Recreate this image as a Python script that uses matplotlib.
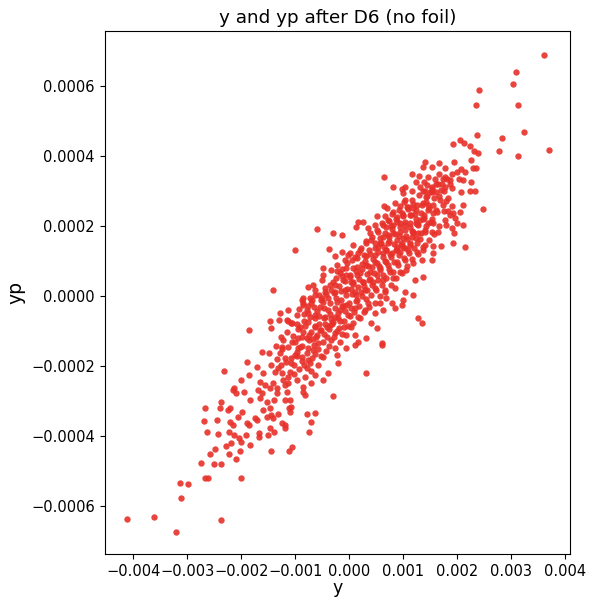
import matplotlib
matplotlib.use("Agg")
import numpy as np
import matplotlib.pyplot as plt

# points: (y in 1e-3, yp in 1e-4)
upper_tail = [(3.60, 6.89), (3.09, 6.42), (3.04, 6.06), (2.40, 5.89), (2.35, 5.45), (3.12, 5.47),
              (3.24, 4.69), (3.70, 4.18), (3.12, 4.01)]
upper_band = [(2.36, 4.61), (2.83, 4.53), (2.05, 4.46), (1.93, 4.35), (2.13, 4.37), (2.24, 4.30),
              (2.31, 4.16), (2.39, 4.10), (2.77, 4.16), (2.25, 3.89), (1.40, 3.84), (1.67, 3.80),
              (1.95, 3.82), (1.53, 3.69), (1.37, 3.68), (1.77, 3.67), (2.29, 3.67), (2.35, 3.67),
              (2.08, 3.62), (2.00, 3.56), (2.14, 3.54), (0.64, 3.39), (1.16, 3.48), (1.29, 3.44),
              (1.66, 3.49), (1.90, 3.49), (1.77, 3.41), (1.73, 3.34), (1.81, 3.35), (2.04, 3.34),
              (2.11, 3.31), (2.25, 3.25), (1.46, 3.39), (1.59, 3.35), (1.23, 3.27), (1.38, 3.27),
              (0.81, 3.13), (0.97, 3.06), (1.03, 3.13), (1.31, 3.12), (1.44, 3.18), (1.53, 3.13),
              (1.61, 3.20), (1.72, 3.21), (1.86, 3.20), (1.90, 3.08), (2.08, 2.98), (2.24, 3.00),
              (2.33, 3.00), (0.99, 2.94), (1.17, 3.01), (1.41, 3.00), (1.49, 2.98), (1.61, 2.97),
              (1.70, 3.03), (1.77, 3.13)]
mid_upper = [(2.48, 2.49), (2.10, 2.60), (2.05, 2.41), (1.90, 2.58), (1.80, 2.72), (1.68, 2.75),
             (1.57, 2.79), (1.42, 2.84), (1.26, 2.60), (1.36, 2.65), (1.46, 2.60), (1.56, 2.37),
             (1.61, 2.46), (1.75, 2.43), (1.83, 2.43), (1.93, 2.37), (1.96, 2.22), (1.99, 2.08),
             (1.80, 2.03), (1.90, 1.94), (1.94, 1.79), (2.11, 2.03), (0.65, 2.58), (0.70, 2.51),
             (0.85, 2.67), (0.94, 2.58), (1.04, 2.75), (1.09, 2.56), (1.19, 2.51), (0.80, 2.35),
             (0.88, 2.27), (1.00, 2.32), (1.12, 2.32), (1.22, 2.35), (1.31, 2.17), (1.38, 2.22),
             (1.46, 2.08), (1.56, 2.08), (1.65, 1.84), (1.53, 1.84), (0.52, 2.29), (0.66, 2.29),
             (0.74, 2.15), (0.60, 2.08), (0.48, 2.03), (0.35, 1.94), (0.26, 2.13), (0.17, 2.13),
             (0.12, 1.98), (0.38, 1.79), (0.54, 1.84), (0.69, 1.98), (0.81, 2.03), (0.94, 2.08),
             (1.03, 2.03), (1.12, 1.98), (1.24, 2.08), (1.19, 1.84), (1.28, 1.81), (1.40, 1.84),
             (0.94, 1.84), (0.81, 1.79), (0.72, 1.75), (0.63, 1.70), (-0.59, 1.91), (-0.30, 1.79),
             (-0.14, 1.75), (0.07, 1.46), (0.32, 1.51), (0.41, 1.60), (0.57, 1.51), (0.72, 1.51),
             (0.88, 1.60), (1.00, 1.65), (1.12, 1.51), (1.25, 1.51), (1.40, 1.46), (1.56, 1.43),
             (1.71, 1.43), (1.93, 1.51), (2.14, 1.41), (0.88, 1.41), (1.00, 1.41), (1.16, 1.70)]
center = [(-1.01, 1.32), (-0.37, 1.34), (-0.14, 1.27), (0.01, 1.22), (0.20, 1.32), (-0.26, 1.13),
          (-0.08, 1.03), (0.14, 1.08), (0.32, 1.13), (0.48, 1.17), (0.63, 1.22), (0.79, 1.22),
          (0.94, 1.27), (1.09, 1.32), (1.25, 1.27), (1.37, 1.32), (1.53, 1.03), (1.34, 1.03),
          (1.19, 0.94), (1.03, 1.03), (0.88, 0.98), (0.69, 0.98), (0.51, 0.94), (0.32, 0.89),
          (0.14, 0.84), (-0.05, 0.79), (-0.23, 0.89), (-0.33, 0.74), (-0.48, 0.81), (-0.48, 0.60),
          (-0.17, 0.65), (0.01, 0.60), (0.20, 0.65), (0.38, 0.70), (0.57, 0.74), (0.75, 0.70),
          (0.94, 0.70), (1.06, 0.74), (1.22, 0.46), (1.37, 0.55), (0.81, 0.51), (0.63, 0.46),
          (0.44, 0.41), (0.26, 0.41), (0.07, 0.41), (-0.11, 0.46), (-0.30, 0.41), (-0.51, 0.46),
          (-0.67, 0.31), (-0.76, 0.27), (-1.42, 0.17), (-0.85, -0.07), (-0.64, 0.03), (-0.45, 0.12),
          (-0.26, 0.12), (-0.08, 0.17), (0.11, 0.12), (0.29, 0.17), (0.48, 0.22), (0.66, 0.12),
          (0.85, 0.22), (1.03, 0.12), (1.19, 0.03), (1.56, 1.22), (0.48, 1.37), (0.69, 1.32)]
mid_lower = [(-1.85, -0.97), (-1.46, -0.72), (-1.44, -0.92), (-1.28, -0.50), (-1.30, -0.69),
             (-1.13, -0.40), (-1.16, -0.69), (-1.07, -0.78), (-0.97, -0.54), (-0.85, -0.21),
             (-0.88, -0.11), (-0.79, -0.40), (-0.91, -0.88), (-0.76, -0.74), (-0.64, -0.54),
             (-0.64, -0.88), (-0.70, -0.21), (-0.54, -0.31), (-0.51, -0.07), (-0.45, -0.59),
             (-0.39, -0.40), (-0.36, -0.83), (-0.23, -0.16), (-0.20, -0.64), (-0.17, -0.40),
             (-0.05, -0.26), (-0.02, -0.54), (0.11, -0.35), (0.14, -0.11), (0.04, -0.88),
             (-0.05, -1.12), (0.20, -0.64), (0.29, -0.40), (0.35, -0.21), (0.41, -0.78),
             (0.48, -0.50), (0.57, -0.21), (0.63, -0.40), (0.69, -0.07), (0.79, -0.21),
             (0.85, -0.35), (0.97, -0.26), (1.00, -0.11), (1.28, -0.62), (1.34, -0.78),
             (0.51, -0.92), (0.32, -1.21), (0.60, -1.35), (-0.79, -1.21), (-0.88, -1.16),
             (-1.22, -1.26), (-1.01, -1.31), (-0.60, -1.12), (-0.42, -1.16), (-0.26, -1.07),
             (-0.17, -1.31), (0.11, -1.12), (0.17, -1.31), (-0.30, -0.75), (-0.10, -0.90)]
lower_band = [(-2.32, -2.14), (-1.89, -1.88), (-2.01, -2.40), (-1.85, -2.26), (-1.70, -2.02),
              (-1.62, -1.59), (-1.59, -2.21), (-1.48, -1.64), (-1.44, -1.97), (-1.65, -2.45),
              (-1.56, -2.55), (-1.41, -2.48), (-1.31, -2.07), (-1.28, -1.64), (-1.25, -1.45),
              (-1.19, -1.78), (-1.25, -2.21), (-1.10, -2.17), (-1.07, -1.93), (-1.13, -2.48),
              (-0.97, -2.40), (-0.94, -1.50), (-0.88, -1.74), (-1.01, -1.69), (-0.79, -2.07),
              (-0.76, -1.83), (-0.82, -2.31), (-0.85, -2.60), (-0.67, -1.55), (-0.64, -2.26),
              (-0.57, -1.97), (-0.48, -1.74), (-0.70, -2.14), (-0.39, -2.21), (-0.26, -1.50),
              (-0.20, -1.93), (-0.23, -1.69), (-0.05, -1.50), (0.11, -1.40), (0.32, -2.21),
              (0.60, -1.40), (-0.48, -2.40), (-0.70, -2.50), (-2.14, -2.64), (-1.19, -2.55)]
low_band = [(-2.67, -3.20), (-2.38, -3.02), (-2.39, -3.20), (-2.69, -3.58), (-2.63, -3.88),
            (-2.44, -3.55), (-2.43, -3.96), (-2.24, -3.26), (-2.20, -3.20), (-2.21, -3.60),
            (-2.22, -3.88), (-2.15, -3.69), (-2.14, -3.98), (-2.06, -3.45), (-1.99, -3.31),
            (-2.16, -2.69), (-2.09, -2.78), (-1.95, -2.76), (-1.84, -2.98), (-1.90, -3.64),
            (-1.85, -3.69), (-2.04, -4.05), (-1.91, -3.98), (-1.75, -3.48), (-1.70, -3.55),
            (-1.65, -2.93), (-1.69, -2.69), (-1.62, -2.78), (-1.60, -3.26), (-1.53, -3.45),
            (-1.47, -2.64), (-1.53, -3.02), (-1.47, -3.20), (-1.39, -2.98), (-1.45, -3.40),
            (-1.34, -2.78), (-1.31, -3.38), (-1.41, -3.50), (-1.47, -3.79), (-1.67, -3.93),
            (-1.67, -4.03), (-1.50, -3.98), (-1.25, -3.64), (-1.19, -3.69), (-1.19, -3.79),
            (-1.19, -2.98), (-1.16, -2.74), (-1.12, -3.21), (-1.09, -3.31), (-1.08, -3.17),
            (-1.09, -2.98), (-0.85, -2.74), (-0.82, -2.83), (-0.79, -3.39), (-0.71, -3.60),
            (-0.64, -3.36), (-0.74, -3.88), (-0.30, -2.86), (-1.39, -3.88)]
lower_tail = [(-4.12, -6.38), (-3.62, -6.32), (-3.21, -6.75), (-2.37, -6.40), (-3.12, -5.78),
              (-3.14, -5.34), (-2.99, -5.38), (-2.75, -4.78), (-2.67, -5.22), (-2.62, -5.21),
              (-2.57, -4.53), (-2.48, -4.39), (-2.50, -4.81), (-2.38, -4.81), (-2.29, -4.30),
              (-2.23, -4.52), (-2.19, -4.21), (-2.09, -4.67), (-2.03, -4.44), (-2.01, -4.17),
              (-2.01, -5.22), (-1.84, -4.25), (-1.45, -4.43), (-1.12, -4.43), (-1.06, -4.31)]
# dense core, estimated (too packed to read one by one)
core = [(-1.03, -1.98), (-0.97, -1.72), (-1.05, -1.33), (-0.94, -0.95),
        (-0.88, -1.87), (-0.92, -1.46), (-0.86, -1.04), (-0.83, -0.52),
        (-0.78, -1.62), (-0.74, -1.27), (-0.81, -0.86), (-0.73, -0.61), (-0.77, -0.28),
        (-0.68, -1.78), (-0.66, -1.41), (-0.71, -1.02), (-0.63, -0.64), (-0.69, -0.12),
        (-0.58, -1.52), (-0.61, -1.18), (-0.56, -0.79), (-0.59, -0.42), (-0.55, 0.02),
        (-0.48, -1.31), (-0.52, -0.97), (-0.46, -0.63), (-0.49, -0.18), (-0.44, 0.22),
        (-0.38, -1.43), (-0.41, -0.88), (-0.35, -0.52), (-0.39, -0.07), (-0.36, 0.31),
        (-0.28, -1.18), (-0.31, -0.79), (-0.26, -0.33), (-0.29, 0.08), (-0.24, 0.52),
        (-0.19, -0.92), (-0.21, -0.48), (-0.16, -0.12), (-0.18, 0.28), (-0.14, 0.77),
        (-0.09, -0.71), (-0.11, -0.28), (-0.06, 0.03), (-0.08, 0.42), (-0.04, 0.93),
        (0.02, -0.58), (-0.01, -0.19), (0.03, 0.21), (0.01, 0.53), (0.05, 1.02),
        (0.09, -0.47), (0.12, 0.02), (0.08, 0.33), (0.13, 0.71), (0.10, 1.12),
        (0.19, -0.29), (0.22, 0.11), (0.18, 0.48), (0.23, 0.92), (0.21, 1.38),
        (0.31, -0.08), (0.28, 0.29), (0.33, 0.62), (0.29, 1.01), (0.32, 1.57),
        (0.41, 0.03), (0.38, 0.48), (0.43, 0.83), (0.39, 1.19), (0.42, 1.68),
        (0.49, 0.18), (0.52, 0.61), (0.48, 0.98), (0.53, 1.41), (0.51, 1.88),
        (0.61, 0.32), (0.58, 0.79), (0.62, 1.12), (0.59, 1.52), (0.63, 2.02),
        (0.69, 0.52), (0.72, 0.88), (0.68, 1.31), (0.73, 1.69), (0.71, 2.18),
        (0.81, 0.68), (0.78, 1.12), (0.83, 1.48), (0.79, 1.91), (0.82, 2.41),
        (0.91, 0.88), (0.88, 1.32), (0.93, 1.71), (0.89, 2.12), (0.92, 2.47),
        (1.01, 1.08), (0.98, 1.52), (1.03, 1.88), (0.99, 2.28), (1.02, 2.68),
        (1.11, 1.22), (1.08, 1.62), (1.13, 2.09), (1.09, 2.48),
        (1.21, 1.38), (1.18, 1.79), (1.23, 2.21), (1.19, 2.62),
        (1.31, 1.62), (1.28, 2.02), (1.33, 2.38), (1.29, 2.88),
        (1.41, 1.88), (1.38, 2.31), (1.43, 2.69),
        (1.51, 2.12), (1.48, 2.52), (1.53, 2.98)]
core_more = [(-1.33, -2.62), (-1.37, -2.18), (-1.34, -1.81), (-1.36, -1.42),
             (-1.23, -2.41), (-1.27, -1.96), (-1.24, -1.53), (-1.26, -1.17),
             (-1.13, -2.31), (-1.17, -1.88), (-1.14, -1.47), (-1.16, -1.03), (-1.13, -0.72),
             (-1.03, -2.22), (-1.07, -1.76), (-1.04, -1.14), (-1.06, -0.77),
             (-0.93, -2.08), (-0.97, -1.61), (-0.94, -1.21), (-0.96, -0.79), (-0.93, -0.36),
             (-0.83, -1.96), (-0.87, -1.44), (-0.84, -0.71), (-0.86, -0.27),
             (-0.73, -1.91), (-0.77, -1.49), (-0.74, -1.12), (-0.76, -0.49), (-0.73, -0.06),
             (-0.63, -1.66), (-0.67, -1.24), (-0.64, -0.86), (-0.66, -0.31), (-0.63, 0.16),
             (-0.53, -1.71), (-0.57, -1.34), (-0.54, -0.96), (-0.56, -0.56), (-0.53, -0.11),
             (-0.43, -1.56), (-0.47, -1.09), (-0.44, -0.81), (-0.46, -0.34), (-0.43, 0.06),
             (-0.33, -1.26), (-0.37, -0.94), (-0.34, -0.66), (-0.36, -0.19), (-0.33, 0.16),
             (-0.23, -1.01), (-0.27, -0.59), (-0.24, -0.06), (-0.26, 0.31), (-0.23, 0.71),
             (-0.13, -1.09), (-0.17, -0.71), (-0.14, -0.29), (-0.16, 0.13), (-0.13, 0.56),
             (-0.03, -0.86), (-0.07, -0.44), (-0.04, 0.21), (-0.06, 0.61), (-0.03, 1.16),
             (0.07, -0.76), (0.03, -0.34), (0.06, 0.06), (0.04, 0.41), (0.07, 0.79),
             (0.17, -0.61), (0.13, -0.14), (0.16, 0.26), (0.14, 0.61), (0.17, 1.24),
             (0.27, -0.46), (0.23, 0.01), (0.26, 0.41), (0.24, 0.76), (0.27, 1.16),
             (0.37, -0.31), (0.33, 0.16), (0.36, 0.46), (0.34, 0.86), (0.37, 1.31),
             (0.47, -0.21), (0.43, 0.31), (0.46, 0.66), (0.44, 1.06), (0.47, 1.51),
             (0.57, 0.01), (0.53, 0.46), (0.56, 0.86), (0.54, 1.26), (0.57, 1.66),
             (0.67, 0.16), (0.63, 0.61), (0.66, 1.01), (0.64, 1.41), (0.67, 1.81),
             (0.77, 0.31), (0.73, 0.76), (0.76, 1.21), (0.74, 1.56), (0.77, 2.01),
             (0.87, 0.51), (0.83, 0.96), (0.86, 1.31), (0.84, 1.76), (0.87, 2.21),
             (0.97, 0.66), (0.93, 1.16), (0.96, 1.46), (0.94, 1.96), (0.97, 2.36),
             (1.07, 0.86), (1.03, 1.36), (1.06, 1.71), (1.04, 2.11), (1.07, 2.56),
             (1.17, 1.06), (1.13, 1.46), (1.16, 1.86), (1.14, 2.31), (1.17, 2.76),
             (1.27, 1.21), (1.23, 1.66), (1.26, 2.06), (1.24, 2.46),
             (1.37, 1.41), (1.33, 1.81), (1.36, 2.21), (1.34, 2.61), (1.37, 3.01),
             (1.47, 1.61), (1.43, 2.01), (1.46, 2.46), (1.44, 2.86),
             (1.57, 1.76), (1.53, 2.21), (1.56, 2.61), (1.54, 3.06),
             (1.67, 2.01), (1.63, 2.41), (1.66, 2.86), (1.64, 3.21),
             (1.77, 2.16), (1.73, 2.61), (1.76, 3.01),
             (1.87, 2.31), (1.83, 2.81), (1.86, 3.31)]

groups = [upper_tail, upper_band, mid_upper, center, mid_lower, lower_band, low_band, lower_tail,
          core, core_more]
pts = np.array([p for g in groups for p in g])
y = pts[:, 0] * 1e-3
yp = pts[:, 1] * 1e-4

fig = plt.figure(figsize=(5.98, 5.99), dpi=100)
ax = fig.add_axes([0.175, 0.0746, 0.779, 0.8736])
ax.scatter(y, yp, s=21, color='#e8302a', alpha=0.9, linewidths=0)
ax.set_xlim(-0.00453, 0.0041)
ax.set_ylim(-0.000739, 0.000758)
ax.set_title('y and yp after D6 (no foil)', fontsize=13.2)
ax.set_xlabel('y', fontsize=12.5, labelpad=0)
ax.set_ylabel('yp', fontsize=13.5)
ax.tick_params(labelsize=10.5)
fig.savefig('out.png', dpi=100)
